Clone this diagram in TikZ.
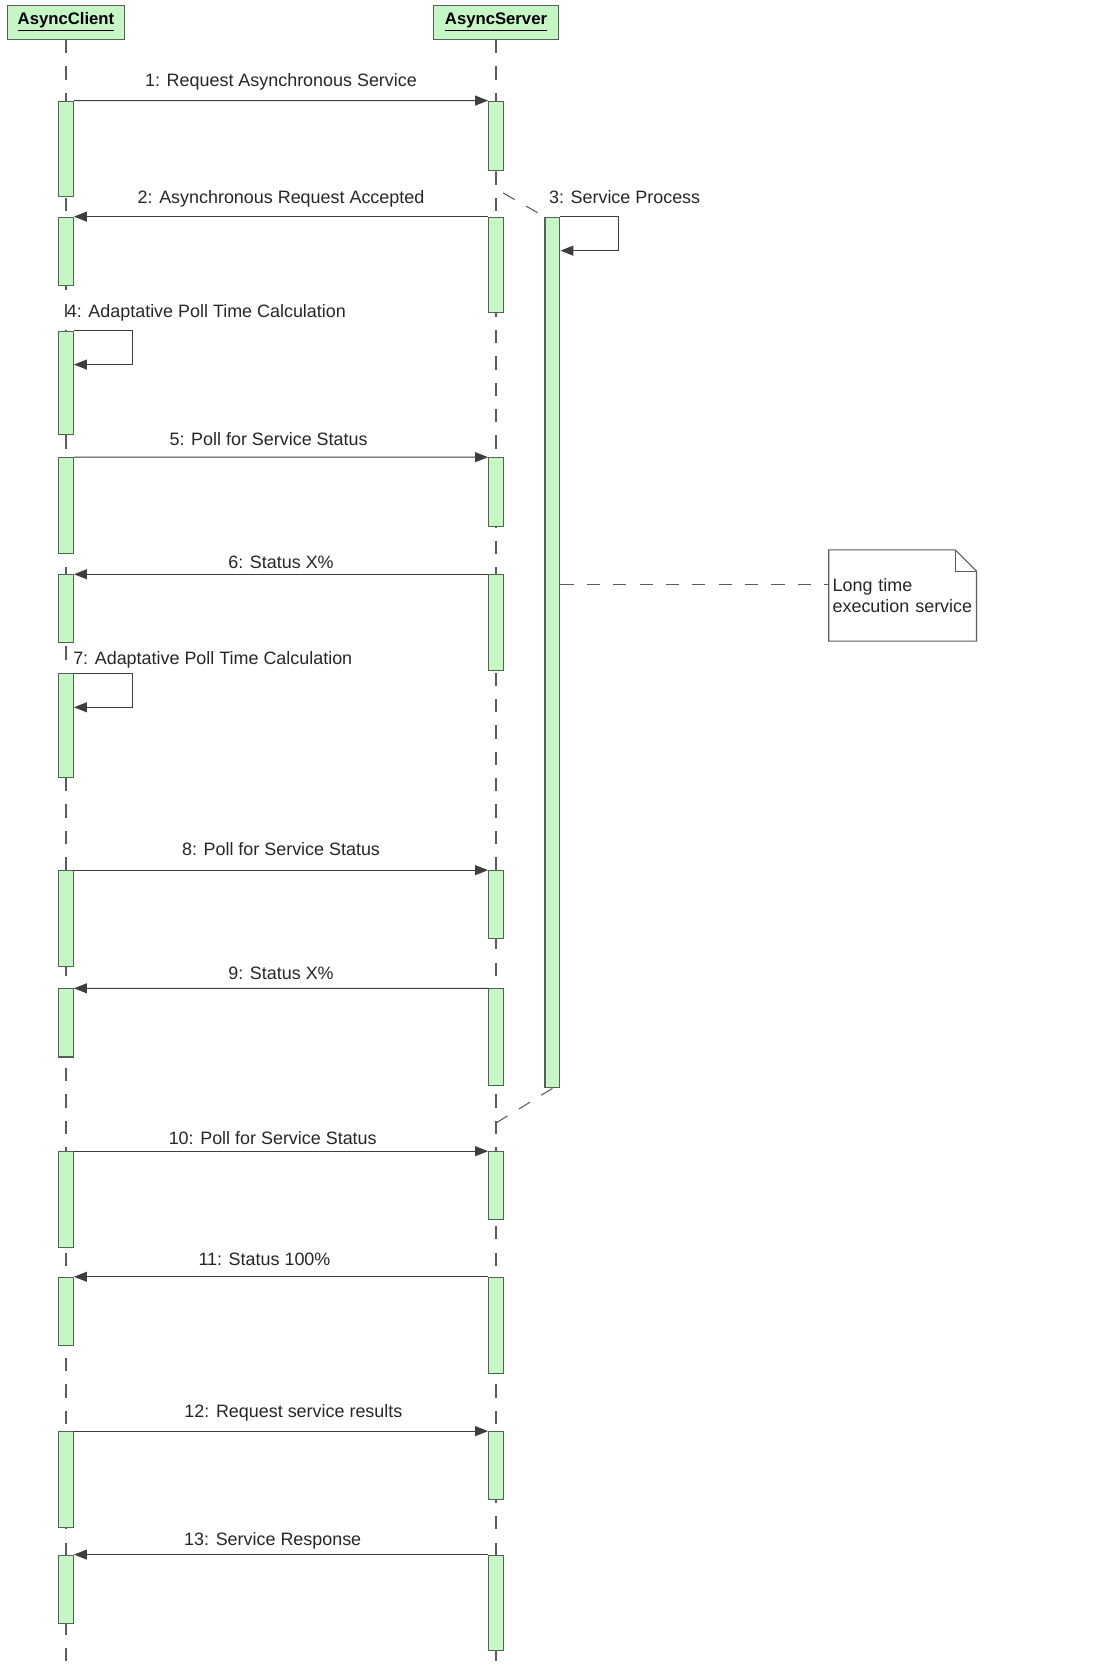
\documentclass[tikz,border=0pt]{standalone}
\usepackage{fontspec}
\setmainfont{Liberation Sans}
\usetikzlibrary{arrows.meta,fit,calc}
\definecolor{barfill}{HTML}{C6F5C6}
\definecolor{barline}{HTML}{4F654F}
\definecolor{msgline}{HTML}{3E3E3E}

\begin{document}
\begin{tikzpicture}[x=0.021293cm, y=-0.021293cm,
    objbox/.style={draw=barline, fill=barfill, line width=0.7pt, minimum height=0.68cm, inner sep=0pt, font=\fontsize{9.5}{11}\selectfont\bfseries},
    actbar/.style={draw=barline, fill=barfill, line width=0.6pt, inner sep=0pt},
    lifeline/.style={draw=msgline!85, line width=0.6pt, dash pattern=on 7.5pt off 7.5pt},
    msg/.style={draw=msgline, line width=0.6pt, -{Triangle[length=0.26cm,width=0.2cm]}},
    lbl/.style={anchor=south, inner sep=0pt, text depth=0pt, font=\fontsize{10.2}{12}\selectfont, text=black!85},
    calllbl/.style={anchor=base west, inner sep=0pt, font=\fontsize{10.2}{12}\selectfont, text=black!85},
    notebox/.style={text width=2.8cm, inner xsep=0.07cm, minimum height=1.81cm, align=left, font=\fontsize{10.2}{11.6}\selectfont, text=black!85}]
    \useasboundingbox (0,0) rectangle (1052,1568);
    % Objects
    \node[objbox, minimum width=2.342cm] (client) at (62,21) {\underline{AsyncClient}};
    \node[objbox, minimum width=2.513cm] (server) at (466,21) {\underline{AsyncServer}};
    \coordinate (clientend) at (62,1568);
    \coordinate (serverend) at (466,1568);
    \draw[lifeline] (client) -- (clientend);
    \draw[lifeline] (server) -- (serverend);
    % Activations
    \foreach \n/\x/\t/\b in {c1/62/95/185, s1/466/95/160, c2/62/204/268, s2/466/204/294,
        p3/519/204/1022, c4/62/311/408, c5/62/430/520, s5/466/430/495,
        c6/62/540/604, s6/466/540/630, c7/62/633/730, c8/62/818/908, s8/466/818/882,
        c9/62/929/993, s9/466/929/1020, c10/62/1082/1172, s10/466/1082/1146,
        c11/62/1200/1264, s11/466/1200/1290, c12/62/1345/1435, s12/466/1345/1409,
        c13/62/1461/1525, s13/466/1461/1551}
        \node[actbar, fit={(\x-7,\t) (\x+7,\b)}] (\n) {};
    % Service process
    \coordinate (rejoin) at (466,1055);
    \draw[lifeline] (s1.south) -- ++(0,17) -- (p3.north west);
    \draw[lifeline] (p3.south) -- (rejoin);
    \node[calllbl] (l3) at ($(p3.north west)+(4,-12)$) {3: Service Process};
    \draw[msg] (p3.north east) -- ++(55,0) -- ++(0,32) -- ++(-55,0);
    % Note
    \node[notebox] (note) at (848,559.5) {Long time\\execution service};
    \draw[msgline!85, line width=0.6pt] (note.north west) -- ($(note.north east)+(-20,0)$) -- ($(note.north east)+(0,20)$) -- (note.south east) -- (note.south west) -- cycle;
    \draw[msgline!85, line width=0.6pt] ($(note.north east)+(-20,0)$) |- ($(note.north east)+(0,20)$);
    \coordinate (notelink) at (779,549);
    \draw[lifeline] (p3.east |- notelink) -- (notelink);
    % Messages
    \draw[msg] (c1.north east) -- node[lbl, above=7.8pt] (m1) {1: Request Asynchronous Service} (s1.north west);
    \draw[msg] (s2.north west) -- node[lbl, above=7.2pt] (m2) {2: Asynchronous Request Accepted} (c2.north east);
    \node[calllbl] (l4) at ($(c4.north west)+(8,-12)$) {4: Adaptative Poll Time Calculation};
    \draw[msg] (c4.north east) -- ++(55,0) -- ++(0,32) -- ++(-55,0);
    \draw[msg] (c5.north east) -- node[lbl, pos=0.47, above=6.6pt] (m5) {5: Poll for Service Status} (s5.north west);
    \draw[msg] (s6.north west) -- node[lbl, above=3pt] (m6) {6: Status X\%} (c6.north east);
    \node[calllbl] (l7) at ($(c7.north west)+(14,-8)$) {7: Adaptative Poll Time Calculation};
    \draw[msg] (c7.north east) -- ++(55,0) -- ++(0,32) -- ++(-55,0);
    \draw[msg] (c8.north east) -- node[lbl, above=7.8pt] (m8) {8: Poll for Service Status} (s8.north west);
    \draw[msg] (s9.north west) -- node[lbl, above=4.8pt] (m9) {9: Status X\%} (c9.north east);
    \draw[msg] (c10.north east) -- node[lbl, pos=0.48, above=3.6pt] (m10) {10: Poll for Service Status} (s10.north west);
    \draw[msg] (s11.north west) -- node[lbl, pos=0.54, above=6pt] (m11) {11: Status 100\%} (c11.north east);
    \draw[msg] (c12.north east) -- node[lbl, pos=0.53, above=7.2pt] (m12) {12: Request service results} (s12.north west);
    \draw[msg] (s13.north west) -- node[lbl, pos=0.52, above=4.8pt] (m13) {13: Service Response} (c13.north east);
\end{tikzpicture}
\end{document}
